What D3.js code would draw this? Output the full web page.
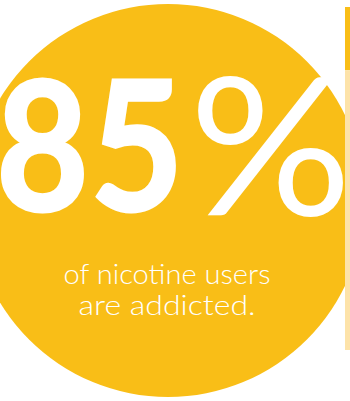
<!DOCTYPE html>
<html><head><meta charset="utf-8">
<script src="https://cdn.jsdelivr.net/npm/d3@7/dist/d3.min.js"></script>
<style>html,body{margin:0;padding:0;background:#fff;overflow:hidden}</style>
</head><body>
<script>
// Data
const statValue = [85];
const statGlyphs = ["8", "5", "%"];
const captionLines = ["of nicotine users", "are addicted."];
const sideBarSegments = [{name: "filled", share: 0.184}, {name: "rest", share: 0.816}];

const W = 350, H = 401;
const yellow = "#F9BE17", beige = "#FDE3A9";

const svg = d3.select("body").append("svg").attr("width", W).attr("height", H);

// circle
const cx = 168, cy = 200.5, r = 196.5;
svg.append("circle").attr("cx", cx).attr("cy", cy).attr("r", r).attr("fill", yellow);

// side bar
const barX = 345, barW = 6, barTop = 7, barBottom = 350;
const yb = d3.scaleLinear().domain([0, 1]).range([barTop, barBottom]);
let acc = 0;
sideBarSegments.forEach((s, i) => {
  svg.append("rect").attr("x", barX).attr("width", barW)
    .attr("y", yb(acc)).attr("height", yb(acc + s.share) - yb(acc))
    .attr("fill", i === 0 ? yellow : beige);
  acc += s.share;
});

// big number: each glyph fitted to its ink box
const inkBoxes = [[2, 78, 83, 212], [97, 80, 175, 212], [198, 75, 343, 217]];
const weights = [700, 700, 400];
const fam = "Lato, 'DejaVu Sans', sans-serif";
const fs = 186;
const ctx = document.createElement("canvas").getContext("2d");
statGlyphs.forEach((g, i) => {
  ctx.font = `${weights[i]} ${fs}px Lato`;
  const m = ctx.measureText(g);
  const L = m.actualBoundingBoxLeft, R = m.actualBoundingBoxRight;
  const A = m.actualBoundingBoxAscent, D = m.actualBoundingBoxDescent;
  const [x0, y0, x1, y1] = inkBoxes[i];
  const sx = (x1 - x0) / (L + R), sy = (y1 - y0) / (A + D);
  const tx = x0 + L * sx, ty = y1 - D * sy;
  svg.append("text")
    .attr("transform", `translate(${tx},${ty}) scale(${sx},${sy})`)
    .attr("font-family", fam)
    .attr("font-weight", weights[i])
    .attr("font-size", fs).attr("fill", "#fff")
    .attr("stroke", i < 2 ? "#fff" : "none").attr("stroke-width", 3)
    .text(g);
});

// caption
const capW = [207, 177];
captionLines.forEach((t, i) => {
  svg.append("text")
    .attr("x", 167).attr("y", 284 + i * 31)
    .attr("text-anchor", "middle")
    .attr("textLength", capW[i]).attr("lengthAdjust", "spacingAndGlyphs")
    .attr("font-family", fam)
    .attr("font-weight", 300)
    .attr("font-size", 27).attr("fill", "#fff")
    .text(t);
});
</script>
</body></html>
